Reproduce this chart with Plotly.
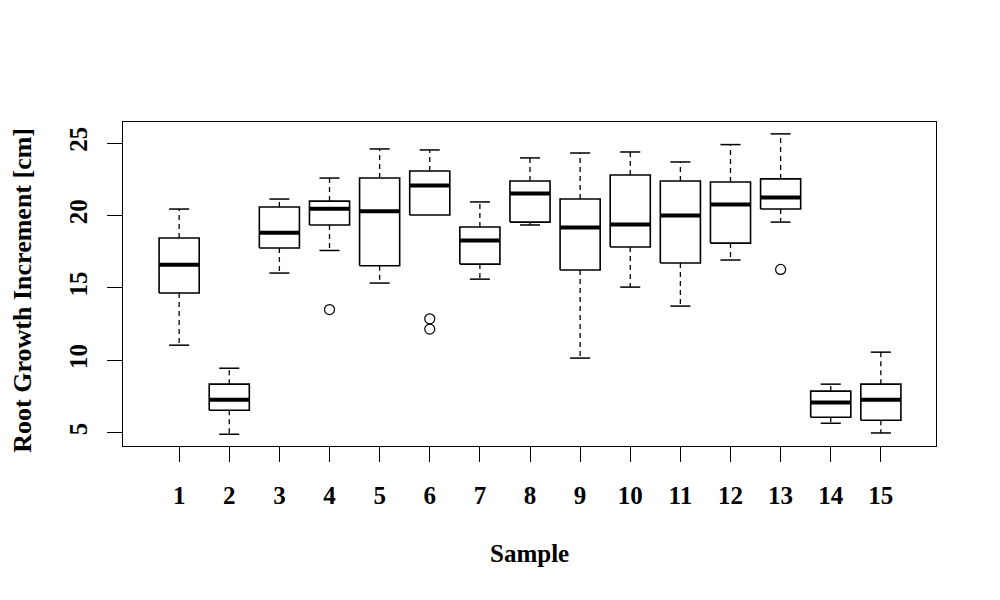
import plotly.graph_objects as go

samples = list(range(1, 16))
q1 =     [14.64, 6.55, 17.75, 19.34, 16.52, 20.03, 16.64, 19.54, 16.23, 17.82, 16.71, 18.09, 20.44, 6.07, 5.86]
median = [16.59, 7.28, 18.80, 20.46, 20.28, 22.07, 18.27, 21.52, 19.17, 19.38, 20.00, 20.76, 21.24, 7.08, 7.28]
q3 =     [18.44, 8.35, 20.58, 20.99, 22.58, 23.07, 19.20, 22.38, 21.13, 22.79, 22.38, 22.31, 22.52, 7.87, 8.35]
lower =  [11.04, 4.89, 16.02, 17.58, 15.33, 20.03, 15.60, 19.34, 10.15, 15.05, 13.74, 16.92, 19.54, 5.65, 4.98]
upper =  [20.44, 9.45, 21.13, 22.58, 24.59, 24.52, 20.93, 23.97, 24.31, 24.38, 23.69, 24.89, 25.63, 8.35, 10.56]
outlier_sample = [4, 6, 6, 13]
outlier_value = [13.50, 12.86, 12.15, 16.27]

yticks = [5, 10, 15, 20, 25]

half_box = 0.4
half_cap = 0.2

bx, by = [], []
mx, my = [], []
wx, wy = [], []
cx, cy = [], []
for s, a, m, b, lo, hi in zip(samples, q1, median, q3, lower, upper):
    bx += [s - half_box, s + half_box, s + half_box, s - half_box, s - half_box, None]
    by += [a, a, b, b, a, None]
    mx += [s - half_box, s + half_box, None]
    my += [m, m, None]
    if hi > b:
        wx += [s, s, None]
        wy += [b, hi, None]
        cx += [s - half_cap, s + half_cap, None]
        cy += [hi, hi, None]
    if lo < a:
        wx += [s, s, None]
        wy += [a, lo, None]
        cx += [s - half_cap, s + half_cap, None]
        cy += [lo, lo, None]

fig = go.Figure()
fig.add_trace(go.Scatter(x=wx, y=wy, mode="lines",
                         line=dict(color="black", width=1.3, dash="5px,4px"),
                         hoverinfo="skip"))
fig.add_trace(go.Scatter(x=cx, y=cy, mode="lines",
                         line=dict(color="black", width=1.5), hoverinfo="skip"))
fig.add_trace(go.Scatter(x=bx, y=by, mode="lines",
                         line=dict(color="black", width=1.6), hoverinfo="skip"))
fig.add_trace(go.Scatter(x=mx, y=my, mode="lines",
                         line=dict(color="black", width=4), hoverinfo="skip"))
fig.add_trace(go.Scatter(x=outlier_sample, y=outlier_value, mode="markers",
                         marker=dict(symbol="circle-open", size=10, color="black",
                                     line=dict(width=1.2, color="black")),
                         hoverinfo="skip"))

font_family = "Liberation Serif"

fig.update_layout(
    width=1000, height=600,
    margin=dict(l=115, r=72, t=114, b=162),
    paper_bgcolor="white", plot_bgcolor="white",
    showlegend=False,
    font=dict(family=font_family, color="black", size=25, weight="bold"),
    xaxis=dict(range=[-0.12, 16.1], tickvals=samples, ticktext=[str(s) for s in samples],
               showgrid=False, zeroline=False, showline=True, linecolor="black",
               linewidth=1.3, mirror=True, ticks="outside", ticklen=15,
               tickcolor="black", tickwidth=1.2, ticklabelstandoff=12,
               tickfont=dict(family=font_family, size=25, weight="bold")),
    yaxis=dict(range=[4.08, 26.45], tickvals=yticks, ticktext=[str(v) for v in yticks],
               showgrid=False, zeroline=False, showline=True, linecolor="black",
               linewidth=1.3, mirror=True, ticks="outside", ticklen=15,
               tickcolor="black", tickwidth=1.2, tickangle=-90, ticklabelstandoff=10,
               tickfont=dict(family=font_family, size=25, weight="bold")),
    annotations=[
        dict(text="Sample", xref="paper", yref="paper", x=0.5, y=-0.333,
             xanchor="center", yanchor="middle", showarrow=False,
             font=dict(family=font_family, size=25, weight="bold")),
        dict(text="Root Growth Increment [cm]", xref="paper", yref="paper",
             x=-0.124, y=0.48, xanchor="center", yanchor="middle", textangle=-90,
             showarrow=False, font=dict(family=font_family, size=26, weight="bold")),
    ],
)

fig.write_html("out.html")
